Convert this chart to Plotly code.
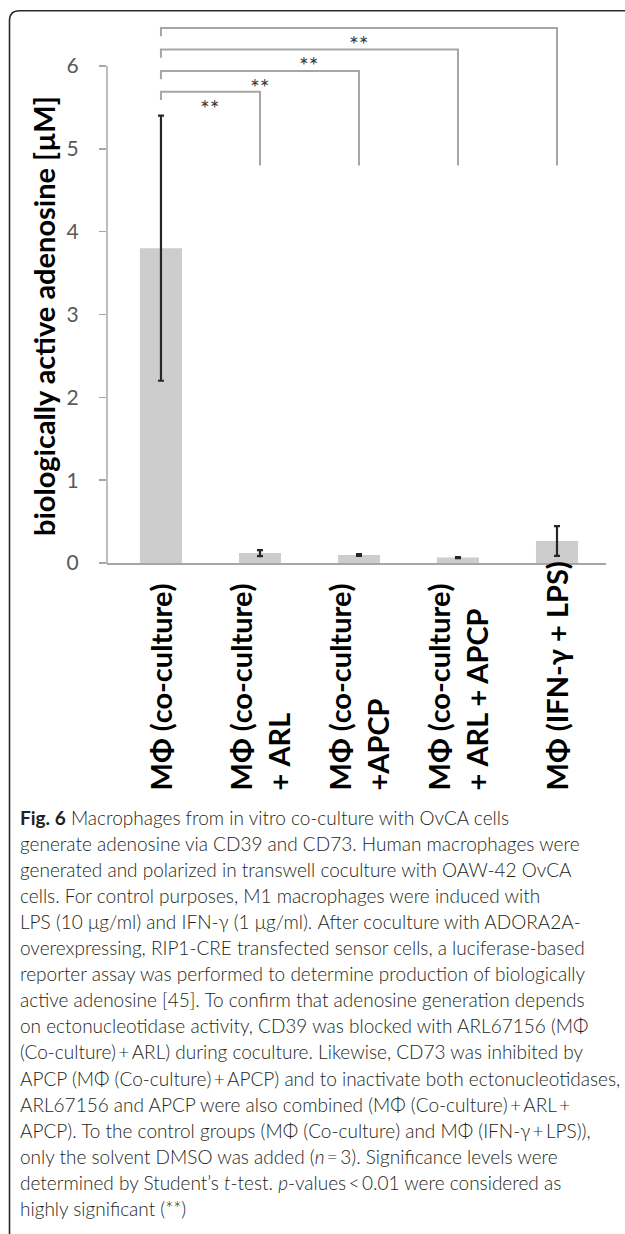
import plotly.graph_objects as go

# ---------------- data ----------------
categories = [
    "MΦ (co-culture)",
    "MΦ (co-culture)<br>+ ARL",
    "MΦ (co-culture)<br>+APCP",
    "MΦ (co-culture)<br>+ ARL + APCP",
    "MΦ (IFN-γ + LPS)",
]
values = [3.80, 0.12, 0.097, 0.065, 0.265]
errors = [1.60, 0.036, 0.010, 0.006, 0.180]
y_ticks = [0, 1, 2, 3, 4, 5, 6]
y_title = "biologically active adenosine [µM]"

# significance brackets: reference group index 0 vs target index
bracket_targets = [1, 2, 3, 4]
bracket_tops = [5.69, 5.94, 6.20, 6.46]
bracket_leg_bottom = 4.80
bracket_left_leg = 0.10
sig_labels = ["**", "**", "**", "**"]

T = "\u2009"  # thin space, as used around operators in the caption
caption_lines = [
    "<b>Fig. 6</b> Macrophages from in vitro co-culture with OvCA cells",
    "generate adenosine via CD39 and CD73. Human macrophages were",
    "generated and polarized in transwell coculture with OAW-42 OvCA",
    "cells. For control purposes, M1 macrophages were induced with",
    "LPS (10 μg/ml) and IFN-γ (1 μg/ml). After coculture with ADORA2A-",
    "overexpressing, RIP1-CRE transfected sensor cells, a luciferase-based",
    "reporter assay was performed to determine production of biologically",
    "active adenosine [45]. To confirm that adenosine generation depends",
    "on ectonucleotidase activity, CD39 was blocked with ARL67156 (MΦ",
    f"(Co-culture){T}+{T}ARL) during coculture. Likewise, CD73 was inhibited by",
    f"APCP (MΦ (Co-culture){T}+{T}APCP) and to inactivate both ectonucleotidases,",
    f"ARL67156 and APCP were also combined (MΦ (Co-culture){T}+{T}ARL{T}+",
    f"APCP). To the control groups (MΦ (Co-culture) and MΦ (IFN-γ{T}+{T}LPS)),",
    f"only the solvent DMSO was added (<i>n</i>{T}={T}3). Significance levels were",
    f"determined by Student’s <i>t</i>-test. <i>p</i>-values{T}<{T}0.01 were considered as",
    "highly significant (**)",
]

# ---------------- layout geometry (pixels) ----------------
W, H = 625, 1234
ML, MR, MT = 107, 19, 10
Y0_PX = 563
MB = H - Y0_PX
PW = W - ML - MR
PH = H - MT - MB


def px_x(px):
    return (px - ML) / PW


def px_y(py):
    return (Y0_PX - py) / PH


FONT = "Lato"

fig = go.Figure()

fig.add_trace(go.Bar(
    x=categories, y=values,
    marker=dict(color="#cdcdcd", line=dict(width=0)),
    error_y=dict(type="data", array=errors, visible=True,
                 color="#262626", thickness=2.2, width=3),
    width=0.425,
    hoverinfo="skip",
))

# significance brackets
for j, top in zip(bracket_targets, bracket_tops):
    fig.add_trace(go.Scatter(
        x=[categories[0], categories[0], categories[j], categories[j]],
        y=[top - bracket_left_leg, top, top, bracket_leg_bottom],
        mode="lines",
        line=dict(color="#a6a6a6", width=2),
        hoverinfo="skip",
    ))

annotations = []
for j, top, lab in zip(bracket_targets, bracket_tops, sig_labels):
    annotations.append(dict(
        x=j / 2, y=top, xref="x", yref="y", text=lab, showarrow=False,
        xanchor="center", yanchor="top", yshift=0,
        font=dict(family=FONT, size=23, color="#3a3a3a"),
    ))

# category labels (rotated, bottom aligned)
for c in categories:
    annotations.append(dict(
        x=c, y=px_y(792), xref="x", yref="paper", text="<b>" + c + "</b>",
        showarrow=False, textangle=-90, xanchor="center", yanchor="bottom",
        align="left", font=dict(family=FONT, size=29, color="#000000"),
    ))

# y-axis title
annotations.append(dict(
    x=px_x(43), y=px_y(316), xref="paper", yref="paper",
    text="<b>" + y_title + "</b>", showarrow=False, textangle=-90,
    xanchor="center", yanchor="middle",
    font=dict(family=FONT, size=29, color="#000000"),
))

# caption
for i, line in enumerate(caption_lines):
    annotations.append(dict(
        x=px_x(18), y=px_y(817 + i * 26.1), xref="paper", yref="paper",
        text=line, showarrow=False, xanchor="left", yanchor="middle",
        align="left", font=dict(family=FONT, size=19, color="#231f20", weight=300),
    ))

shapes = [
    # y axis line from 0 to 6
    dict(type="line", xref="paper", yref="y", x0=0, x1=0, y0=0, y1=6,
         line=dict(color="#a6a6a6", width=1.5)),
    # short extension of x axis line to the left
    dict(type="line", xref="paper", yref="paper", x0=px_x(100), x1=0, y0=0, y1=0,
         line=dict(color="#a6a6a6", width=1.5)),
]
# frame border with rounded top-left corner
xl, yt = px_x(9.5), px_y(10.7)
xb, xr = px_y(1245), px_x(640)
rx, ry = 10 / PW, 10 / PH
shapes.append(dict(
    type="path", xref="paper", yref="paper",
    path=f"M {xl},{xb} L {xl},{yt - ry} Q {xl},{yt} {xl + rx},{yt} L {xr},{yt}",
    line=dict(color="#2b2b2b", width=1.6),
))

fig.update_layout(
    width=W, height=H,
    margin=dict(l=ML, r=MR, t=MT, b=MB, pad=0),
    paper_bgcolor="white", plot_bgcolor="white",
    showlegend=False,
    bargap=0.575,
    xaxis=dict(
        type="category", range=[-0.545, 4.495],
        showticklabels=False, ticks="", showgrid=False, zeroline=False,
        showline=True, linecolor="#a6a6a6", linewidth=1.5,
    ),
    yaxis=dict(
        range=[0, PH / ((Y0_PX - 66) / 6)],
        tickvals=y_ticks, ticks="outside", ticklen=7, tickwidth=1.5,
        tickcolor="#a6a6a6", showline=False, showgrid=False, zeroline=False,
        tickfont=dict(family=FONT, size=21, color="#595959"),
        ticklabelstandoff=16,
    ),
    annotations=annotations,
    shapes=shapes,
)

fig.write_html(
    "out.html",
    config={"displayModeBar": False, "staticPlot": True},
    post_script="document.body.style.margin='0';document.body.style.overflow='hidden';",
)
